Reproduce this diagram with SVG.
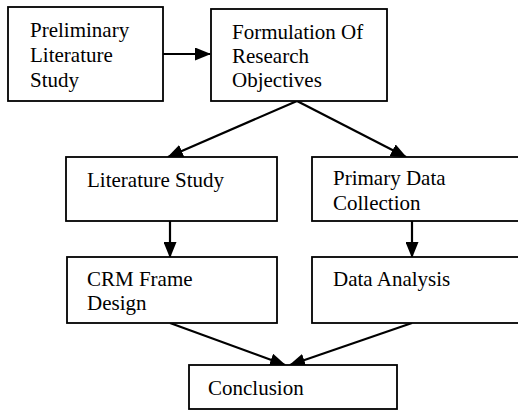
<svg xmlns="http://www.w3.org/2000/svg" width="518" height="412" viewBox="0 0 518 412">
<style>
.box{fill:#fff;stroke:#000;stroke-width:1.8}
.t{font-family:"Liberation Serif","Times New Roman",serif;font-size:21px;fill:#000}
.c{stroke:#000;stroke-width:2.2;fill:none}
</style>
<defs>
<marker id="ah" viewBox="0 0 16 13" refX="15" refY="6.5" markerWidth="16" markerHeight="13" markerUnits="userSpaceOnUse" orient="auto">
<path d="M0,0 L16,6.5 L0,13 Z" fill="#000"/>
</marker>
</defs>
<rect width="518" height="412" fill="#fff"/>
<g id="connectors">
<line class="c" x1="163" y1="54" x2="210" y2="54" marker-end="url(#ah)"/>
<line class="c" x1="297" y1="101" x2="168" y2="157" marker-end="url(#ah)"/>
<line class="c" x1="297" y1="101" x2="406" y2="157" marker-end="url(#ah)"/>
<line class="c" x1="170" y1="221" x2="170" y2="257" marker-end="url(#ah)"/>
<line class="c" x1="412" y1="221" x2="412" y2="257" marker-end="url(#ah)"/>
<line class="c" x1="170" y1="323" x2="285" y2="365" marker-end="url(#ah)"/>
<line class="c" x1="412" y1="323" x2="290" y2="365" marker-end="url(#ah)"/>
</g>
<g id="n1"><rect class="box" x="8" y="7" width="155" height="94"/>
<text class="t" x="30" y="37">Preliminary</text><text class="t" x="30" y="62">Literature</text><text class="t" x="30" y="87">Study</text></g>
<g id="n2"><rect class="box" x="211" y="9" width="176" height="92"/>
<text class="t" x="232" y="39">Formulation Of</text><text class="t" x="232" y="63">Research</text><text class="t" x="232" y="87">Objectives</text></g>
<g id="n3"><rect class="box" x="66" y="157" width="211" height="64"/>
<text class="t" x="87" y="187">Literature Study</text></g>
<g id="n4"><rect class="box" x="312" y="157" width="230" height="64"/>
<text class="t" x="333" y="185">Primary Data</text><text class="t" x="333" y="210">Collection</text></g>
<g id="n5"><rect class="box" x="67" y="257" width="210" height="66"/>
<text class="t" x="87" y="286">CRM Frame</text><text class="t" x="87" y="310">Design</text></g>
<g id="n6"><rect class="box" x="312" y="257" width="230" height="66"/>
<text class="t" x="333" y="286">Data Analysis</text></g>
<g id="n7"><rect class="box" x="189" y="365" width="208" height="44"/>
<text class="t" x="208" y="395">Conclusion</text></g>
</svg>
